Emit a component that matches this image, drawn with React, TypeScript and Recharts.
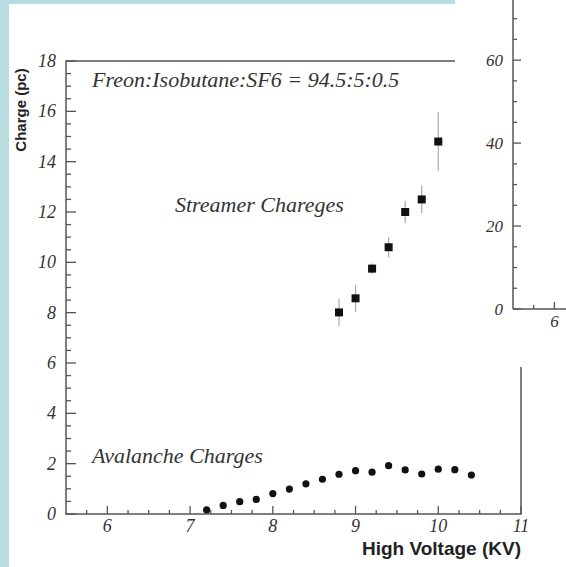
import React from 'react';
import { ScatterChart, Scatter, XAxis, YAxis, ErrorBar, ReferenceArea } from 'recharts';

// ---- data ----
const avalancheHV = [7.2, 7.4, 7.6, 7.8, 8.0, 8.2, 8.4, 8.6, 8.8, 9.0, 9.2, 9.4, 9.6, 9.8, 10.0, 10.2, 10.4];
const avalancheQ = [0.16, 0.34, 0.49, 0.58, 0.81, 0.99, 1.2, 1.38, 1.58, 1.72, 1.66, 1.92, 1.75, 1.59, 1.78, 1.76, 1.55];
const streamerHV = [8.8, 9.0, 9.2, 9.4, 9.6, 9.8, 10.0];
const streamerQ = [8.01, 8.57, 9.75, 10.6, 12.0, 12.5, 14.8];
const streamerErr = [0.55, 0.54, 0.2, 0.4, 0.45, 0.55, 1.17];

const yMajorTicks = [0, 2, 4, 6, 8, 10, 12, 14, 16, 18];
const xMajorTicks = [6, 7, 8, 9, 10, 11];
const insetYMajorTicks = [0, 20, 40, 60];
const insetXMajorTicks = [6];

const yTicksAll: number[] = [];
for (let v = 0; v <= 18; v += 0.5) yTicksAll.push(v);
const xTicksAll: number[] = [];
for (let v = 5.75; v <= 11; v += 0.25) xTicksAll.push(v);
const insetYTicksAll: number[] = [];
for (let v = 0; v <= 70; v += 5) insetYTicksAll.push(v);
const insetXTicksAll = [5.75, 6];

const avalancheData = avalancheHV.map((x, i) => ({ x, y: avalancheQ[i] }));
const streamerData = streamerHV.map((x, i) => ({ x, y: streamerQ[i], err: streamerErr[i] }));

// ---- style ----
const BLUE = '#b7dde0';
const AXIS = '#555';
const TXT = '#333';
const SERIF = '"Liberation Serif", "DejaVu Serif", serif';
const SANS = '"Liberation Sans", Arial, sans-serif';

const W = 566;
const H = 567;
const PL = 66;
const PT = 61;
const PR = 521;
const PB = 514;

const makeYTick = (left: number, majors: number[], majLen: number, minLen: number, fs: number) => (props: any) => {
  const { y, payload } = props;
  const v = payload.value;
  const major = majors.includes(v);
  return (
    <g>
      <line x1={left} x2={left + (major ? majLen : minLen)} y1={y} y2={y} stroke={AXIS} strokeWidth={1.3} />
      {major && (
        <text x={left - 10} y={y} dy={6} textAnchor="end" fontFamily={SERIF} fontStyle="italic" fontSize={fs} fill={TXT}>
          {v}
        </text>
      )}
    </g>
  );
};

const makeXTick = (bottom: number, majors: number[], majLen: number, minLen: number, fs: number) => (props: any) => {
  const { x, payload } = props;
  const v = payload.value;
  const major = majors.includes(v);
  return (
    <g>
      <line x1={x} x2={x} y1={bottom} y2={bottom - (major ? majLen : minLen)} stroke={AXIS} strokeWidth={1.3} />
      {major && (
        <text x={x} y={bottom + 18} textAnchor="middle" fontFamily={SERIF} fontStyle="italic" fontSize={fs} fill={TXT}>
          {v}
        </text>
      )}
    </g>
  );
};

const Square = (p: any) => <rect x={p.cx - 4} y={p.cy - 4} width={8} height={8} fill="#111" />;
const Dot = (p: any) => <circle cx={p.cx} cy={p.cy} r={3.6} fill="#111" />;

export default function App() {
  return (
    <div style={{ position: 'absolute', left: 0, top: 0, width: W, height: H, background: BLUE, overflow: 'hidden' }}>
      <div style={{ position: 'absolute', left: 9, top: 4, width: W - 9, height: H - 4, background: '#fff' }} />
      <div style={{ position: 'absolute', left: 0, top: 0 }}>
        <ScatterChart width={W} height={H} margin={{ top: PT, right: W - PR, bottom: H - PB - 30, left: PL - 60 }}>
          <XAxis
            type="number"
            dataKey="x"
            domain={[5.5, 11]}
            ticks={xTicksAll}
            interval={0}
            allowDataOverflow
            axisLine={false}
            tickLine={false}
            height={30}
            tick={makeXTick(PB, xMajorTicks, 8, 4, 18)}
          />
          <YAxis
            type="number"
            dataKey="y"
            domain={[0, 18]}
            ticks={yTicksAll}
            interval={0}
            allowDataOverflow
            axisLine={false}
            tickLine={false}
            width={60}
            tick={makeYTick(PL, yMajorTicks, 10, 5, 18)}
          />
          <ReferenceArea x1={5.5} x2={11} y1={0} y2={18} fill="none" stroke={AXIS} strokeWidth={1.5} ifOverflow="visible" />
          <Scatter data={streamerData} dataKey="y" shape={Square} isAnimationActive={false}>
            <ErrorBar dataKey="err" direction="y" width={0} stroke="#aaa" strokeWidth={1.2} />
          </Scatter>
          <Scatter data={avalancheData} dataKey="y" shape={Dot} isAnimationActive={false} />
        </ScatterChart>
      </div>
      <svg style={{ position: 'absolute', left: 0, top: 0 }} width={W} height={H}>
        <text
          transform="translate(26,110) rotate(-90)"
          textAnchor="middle"
          fontFamily={SANS}
          fontWeight="bold"
          fontSize={15}
          fill="#222"
        >
          Charge (pc)
        </text>
        <text x={PR} y={555} textAnchor="end" fontFamily={SANS} fontWeight="bold" fontSize={19} fill="#222">
          High Voltage (KV)
        </text>
        <text x={92} y={87} fontFamily={SERIF} fontStyle="italic" fontSize={22} fill={TXT}>
          Freon:Isobutane:SF6 = 94.5:5:0.5
        </text>
        <text x={175} y={212} fontFamily={SERIF} fontStyle="italic" fontSize={22} fill={TXT}>
          Streamer Chareges
        </text>
        <text x={92} y={463} fontFamily={SERIF} fontStyle="italic" fontSize={22} fill={TXT}>
          Avalanche Charges
        </text>
      </svg>
      <div style={{ position: 'absolute', left: 455, top: 0, width: 111, height: 367, background: '#fff' }}>
        <ScatterChart width={111} height={367} margin={{ top: 0, right: 0, bottom: 28, left: 8 }}>
          <XAxis
            type="number"
            dataKey="x"
            domain={[5.5, 6.14]}
            ticks={insetXTicksAll}
            interval={0}
            allowDataOverflow
            axisLine={{ stroke: AXIS, strokeWidth: 1.5 }}
            tickLine={false}
            height={30}
            tick={makeXTick(309, insetXMajorTicks, 7, 4, 17)}
          />
          <YAxis
            type="number"
            dataKey="y"
            domain={[0, 74.5]}
            ticks={insetYTicksAll}
            interval={0}
            allowDataOverflow
            axisLine={{ stroke: AXIS, strokeWidth: 1.5 }}
            tickLine={false}
            width={50}
            tick={makeYTick(58, insetYMajorTicks, 8, 4, 17)}
          />
          <Scatter data={[]} dataKey="y" isAnimationActive={false} />
        </ScatterChart>
      </div>
    </div>
  );
}
